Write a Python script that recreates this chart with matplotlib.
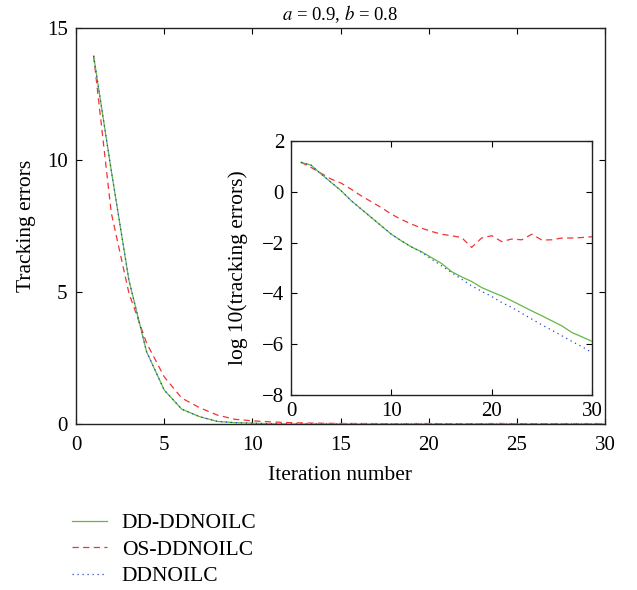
import numpy as np
import matplotlib
matplotlib.use("Agg")
import matplotlib.pyplot as plt

plt.rcParams['font.family'] = ['Liberation Serif', 'DejaVu Serif']
plt.rcParams['mathtext.fontset'] = 'stix'
plt.rcParams['font.size'] = 15

# iteration numbers
iters = list(range(1, 31))

# tracking errors (linear scale, main plot)
err_dd = [13.94, 9.6, 5.45, 2.74, 1.29, 0.56, 0.28, 0.10, 0.05, 0.03,
          0.012, 0.007, 0.004, 0.003, 0.002, 0.001, 0.0005, 0.0003, 0.0002, 0.0001,
          0.0001, 0.0001, 0.0, 0.0, 0.0, 0.0, 0.0, 0.0, 0.0, 0.0]
err_os = [13.94, 8.0, 4.96, 3.07, 1.79, 0.98, 0.62, 0.34, 0.18, 0.12,
          0.081, 0.054, 0.037, 0.028, 0.021, 0.019, 0.016, 0.006, 0.015, 0.019,
          0.011, 0.014, 0.013, 0.021, 0.013, 0.013, 0.015, 0.015, 0.016, 0.017]
err_base = [13.94, 9.6, 5.45, 2.74, 1.29, 0.56, 0.28, 0.10, 0.05, 0.03,
            0.012, 0.007, 0.004, 0.002, 0.001, 0.0007, 0.0004, 0.0002, 0.0001, 0.0001,
            0.0, 0.0, 0.0, 0.0, 0.0, 0.0, 0.0, 0.0, 0.0, 0.0]

# log10 tracking errors (inset)
log_dd = [1.16, 1.05, 0.70, 0.37, 0.04, -0.35, -0.68, -1.01, -1.34, -1.67,
          -1.93, -2.17, -2.36, -2.59, -2.82, -3.14, -3.35, -3.53, -3.77, -3.94,
          -4.10, -4.29, -4.49, -4.69, -4.88, -5.08, -5.28, -5.54, -5.71, -5.89]
log_os = [1.16, 0.96, 0.73, 0.50, 0.34, 0.10, -0.16, -0.39, -0.62, -0.88,
          -1.09, -1.27, -1.43, -1.56, -1.67, -1.73, -1.80, -2.19, -1.82, -1.73,
          -1.96, -1.86, -1.89, -1.67, -1.90, -1.89, -1.82, -1.82, -1.80, -1.77]
log_base = [1.16, 1.05, 0.70, 0.37, 0.04, -0.35, -0.68, -1.01, -1.34, -1.67,
            -1.93, -2.17, -2.38, -2.65, -2.91, -3.18, -3.44, -3.70, -3.92, -4.12,
            -4.36, -4.55, -4.78, -5.01, -5.24, -5.45, -5.67, -5.89, -6.10, -6.33]

labels = ['DD-DDNOILC', 'OS-DDNOILC', 'DDNOILC']
green = '#62b846'
red = '#f03434'
blue = '#2a45c8'
dash = (0, (5, 3.5))
dots = (0, (1, 3))

fig = plt.figure(figsize=(6.37, 5.9), dpi=100)
W, H = 637, 590
ax = fig.add_axes([76/W, 1 - 424/H, (605 - 76)/W, (424 - 28)/H])

l1, = ax.plot(iters, err_dd, color=green, lw=0.9, label=labels[0], zorder=3)
l2, = ax.plot(iters, err_os, color=red, lw=0.9, ls=dash, label=labels[1], zorder=2)
l3, = ax.plot(iters, err_base, color=blue, lw=0.9, ls=dots, label=labels[2], zorder=4)

ax.set_xlim(0, 30)
ax.set_ylim(0, 15)
ax.set_xticks([0, 5, 10, 15, 20, 25, 30])
ax.set_yticks([0, 5, 10, 15])
ax.tick_params(direction='in', top=True, right=True, length=4, width=0.8, pad=6, labelsize=15)
ax.tick_params(axis='x', pad=9)
for s in ax.spines.values():
    s.set_linewidth(1.0)
    s.set_color('#222222')
ax.set_xlabel('Iteration number', fontsize=15.5, va='center')
ax.xaxis.set_label_coords(0.5, (424 - 475) / 396)
ax.set_ylabel('Tracking errors', fontsize=15.5, va='center')
ax.yaxis.set_label_coords((26 - 76) / 529, 0.5)
ax.set_title('$a$ = 0.9, $b$ = 0.8', fontsize=13.5, pad=6)

# inset with log scale values
axi = fig.add_axes([291/W, 1 - 395/H, (592 - 291)/W, (395 - 141)/H])
axi.plot(iters, log_dd, color=green, lw=0.9, zorder=3)
axi.plot(iters, log_os, color=red, lw=0.9, ls=dash, zorder=2)
axi.plot(iters, log_base, color=blue, lw=0.9, ls=dots, zorder=4)
axi.set_xlim(0, 30)
axi.set_ylim(-8, 2)
axi.set_xticks([0, 10, 20, 30])
axi.set_yticks([-8, -6, -4, -2, 0, 2])
axi.tick_params(direction='in', top=True, right=True, length=4, width=0.8, pad=5, labelsize=15)
for s in axi.spines.values():
    s.set_linewidth(1.0)
    s.set_color('#222222')
axi.set_ylabel('log 10(tracking errors)', fontsize=15.5, va='center')
axi.yaxis.set_label_coords((238 - 291) / 301, 0.5)

fig.legend(handles=[l1, l2, l3], loc='upper left', bbox_to_anchor=(68/W, 1 - 509/H),
           frameon=False, fontsize=15.5, handlelength=1.6, handletextpad=0.7,
           labelspacing=0.3, borderaxespad=0, borderpad=0.2)

fig.savefig('out.png', dpi=100)
